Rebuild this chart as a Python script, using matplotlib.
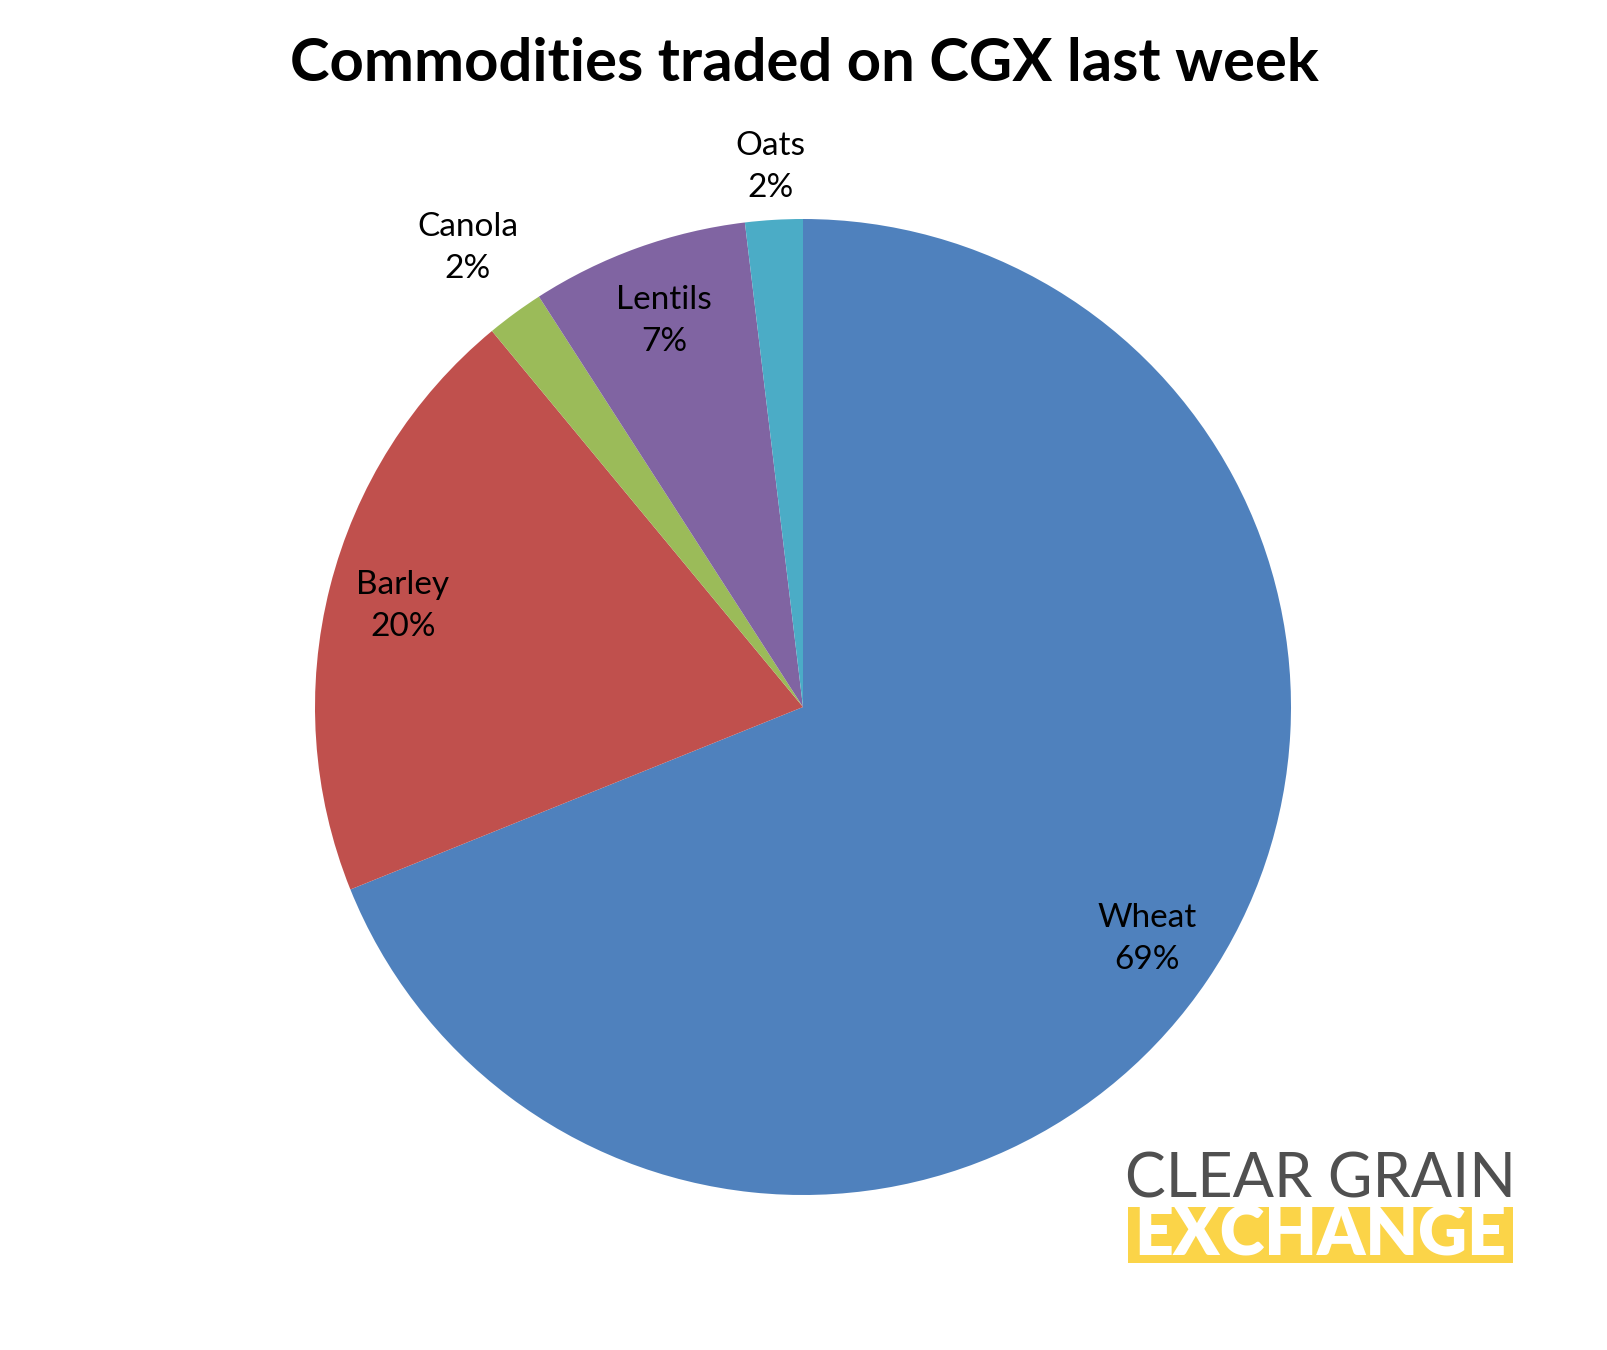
import numpy as np
import matplotlib.pyplot as plt
from matplotlib.patches import Rectangle

# Data (share of volume, %)
commodities = ['Wheat', 'Barley', 'Canola', 'Lentils', 'Oats']
shares = [68.9, 20.1, 1.9, 7.2, 1.9]
pct_labels = ['69%', '20%', '2%', '7%', '2%']
colors = ['#4F81BD', '#C0504D', '#9BBB59', '#8064A2', '#4BACC6']
# radial distance of each label (in pie radii)
label_dist = [0.85, 0.846, 1.165, 0.84, 1.108]

plt.rcParams['font.family'] = ['Lato', 'DejaVu Sans']

fig = plt.figure(figsize=(16.08, 13.5), dpi=100)
fig.patch.set_facecolor('white')

# pie axes: center ~ (803, 707) px, radius ~488 px
cx, cy, r = 803, 707, 488
W, H = 1608, 1350
ax = fig.add_axes([(cx - r) / W, (H - cy - r) / H, 2 * r / W, 2 * r / H])
wedges, _ = ax.pie(shares, colors=colors, startangle=90, counterclock=False,
                   radius=1.0, wedgeprops=dict(linewidth=0))
ax.set_xlim(-1, 1)
ax.set_ylim(-1, 1)
ax.set_aspect('equal')
ax.axis('off')

for w, name, pct, d in zip(wedges, commodities, pct_labels, label_dist):
    ang = np.deg2rad((w.theta1 + w.theta2) / 2)
    ax.text(d * np.cos(ang), d * np.sin(ang), f'{name}\n{pct}',
            ha='center', va='center', fontsize=24, linespacing=1.5,
            color='black', clip_on=False)

fig.text(0.5, 1 - 64 / H, 'Commodities traded on CGX last week',
         ha='center', va='center', fontsize=43, fontweight='bold')

# logo, bottom right
x0, x1 = 1128 / W, 1513 / W
fig.text((x0 + x1) / 2, 1 - 1180 / H, 'CLEAR GRAIN', ha='center', va='center',
         fontsize=44, fontweight='normal', color='#505050')
fig.patches.append(Rectangle((x0, 1 - 1263 / H), x1 - x0, 56 / H,
                             transform=fig.transFigure, facecolor='#FBD448',
                             edgecolor='none'))
fig.text((x0 + x1) / 2, 1 - 1236 / H, 'EXCHANGE', ha='center', va='center',
         fontsize=49, fontweight='heavy', color='white')

fig.savefig('out.png', dpi=100, facecolor='white')
